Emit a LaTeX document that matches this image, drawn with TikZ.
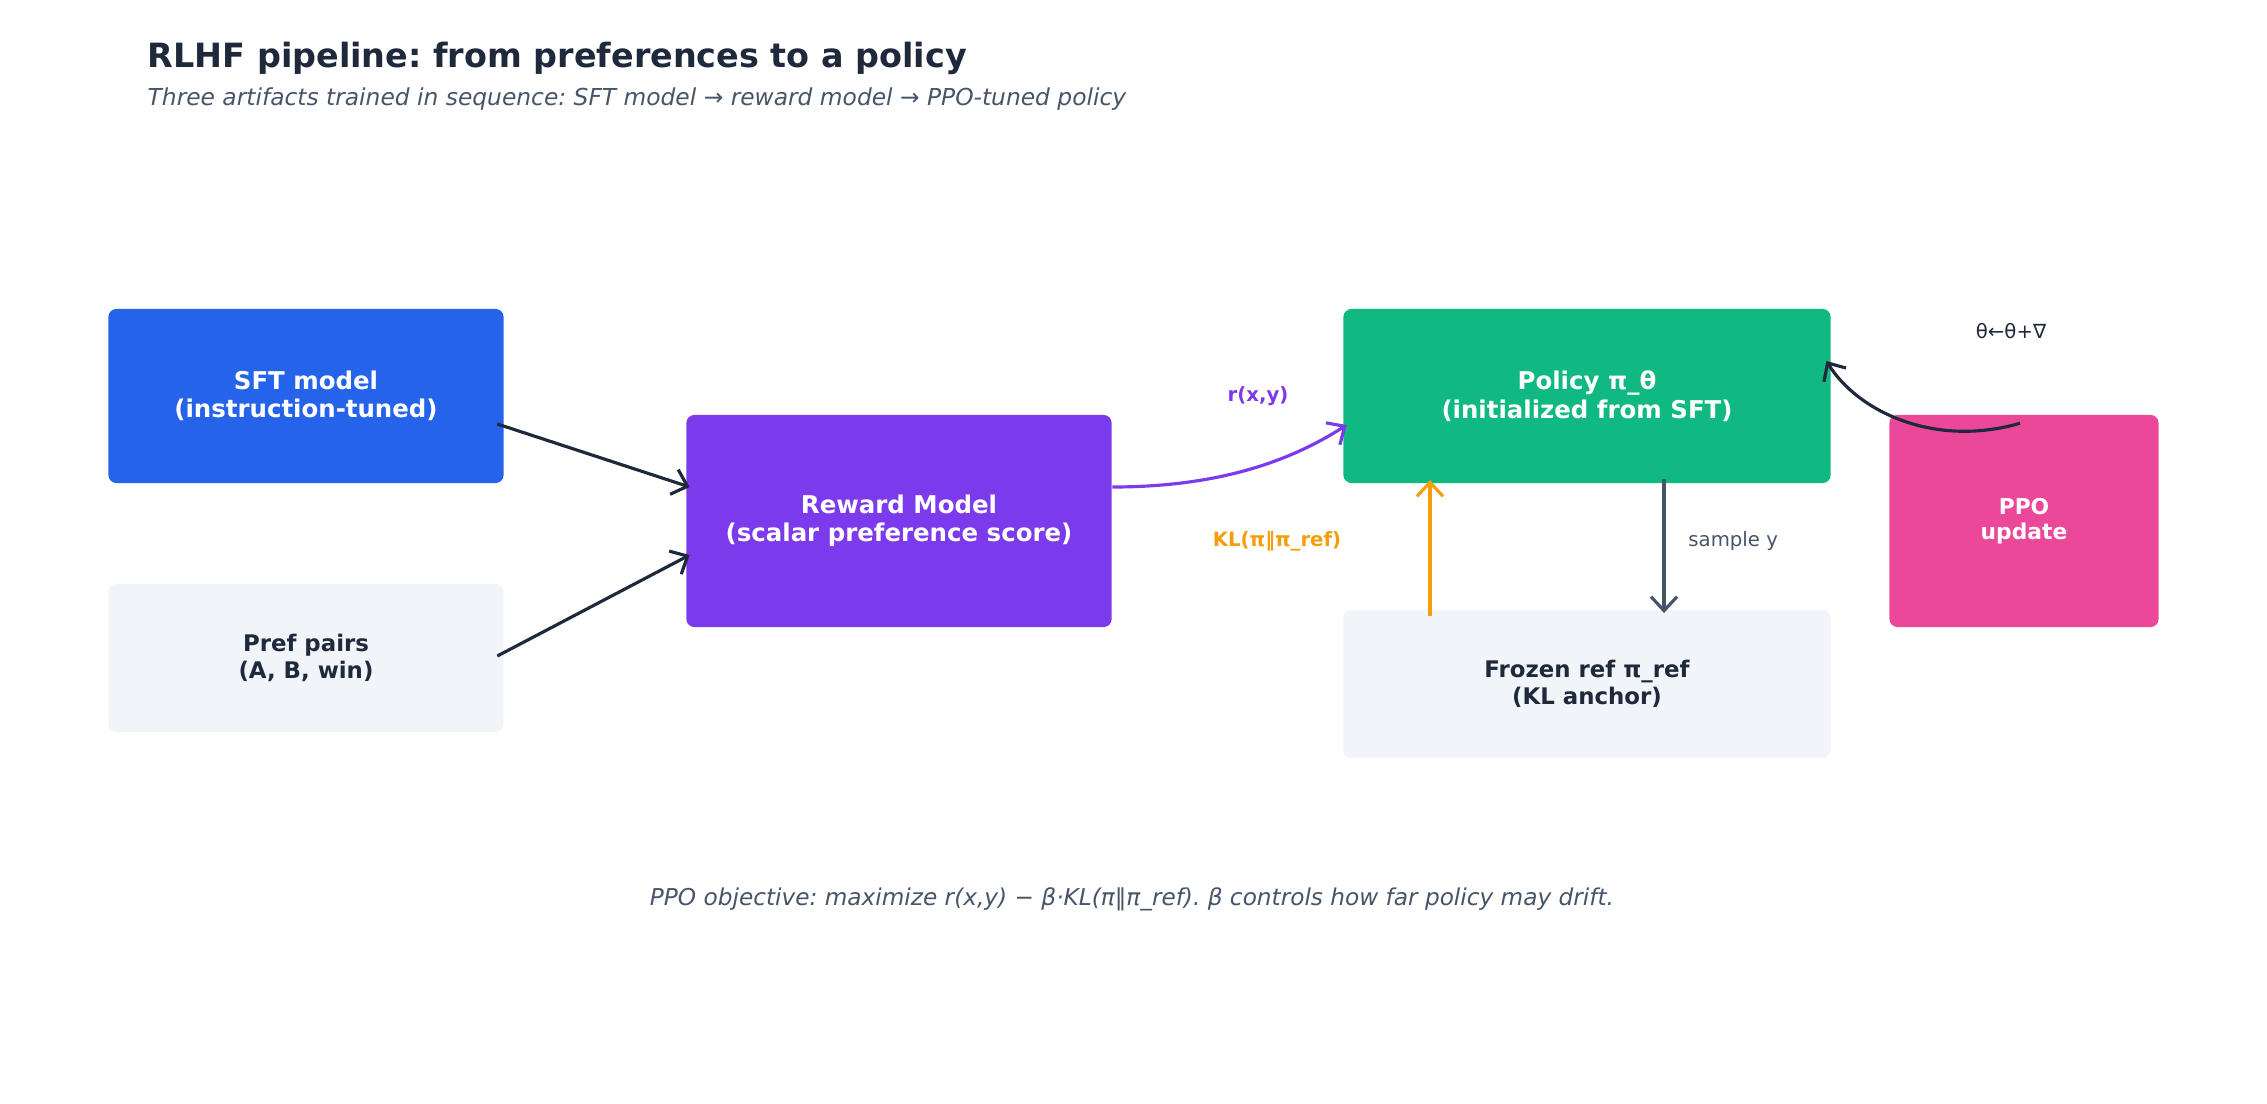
\documentclass[tikz,border=0pt]{standalone}
\usepackage{fontspec}
\setmainfont{DejaVu Sans}
\usepackage{xcolor}
\usetikzlibrary{arrows.meta,positioning,calc}
\frenchspacing

\definecolor{inkdark}{HTML}{1E293B}
\definecolor{inkgray}{HTML}{475569}
\definecolor{sftblue}{HTML}{2563EB}
\definecolor{rmpurple}{HTML}{7C3AED}
\definecolor{polgreen}{HTML}{10B981}
\definecolor{ppopink}{HTML}{EC4899}
\definecolor{softbg}{HTML}{F1F5F9}
\definecolor{klorange}{HTML}{F59E0B}

\begin{document}
\begin{tikzpicture}[
  x=0.01cm, y=-0.01cm,
  stage/.style={
    rounded corners=0.08cm, align=center, inner sep=4pt,
    font=\fontsize{6.95}{8.1}\selectfont\bfseries, text=white
  },
  datum/.style={
    rounded corners=0.08cm, align=center, inner sep=4pt,
    font=\fontsize{6.5}{7.6}\selectfont\bfseries, text=inkdark, fill=softbg
  },
  flow/.style={-{Straight Barb[length=1.4mm,width=2.6mm]}, line width=0.9pt},
  tag/.style={font=\fontsize{5.6}{6.6}\selectfont}
]
\useasboundingbox (0,0) rectangle (2267,1103);

% title block
\node[anchor=west, inner sep=0pt, text=inkdark, font=\fontsize{9.5}{11}\selectfont\bfseries] (title) at (147,58) {RLHF pipeline: from preferences to a policy};
\node[anchor=west, inner sep=0pt, text=inkgray, font=\fontsize{6.64}{7.6}\selectfont\itshape] (subtitle) at (147,99) {Three artifacts trained in sequence: SFT model → reward model → PPO-tuned policy};

% boxes
\node[stage, fill=sftblue, minimum width=3.95cm, minimum height=1.74cm] (sft) at (306,396) {SFT model\\(instruction-tuned)};
\node[datum, minimum width=3.95cm, minimum height=1.48cm] (pairs) at (306,658) {Pref pairs\\(A, B, win)};
\node[stage, fill=rmpurple, minimum width=4.25cm, minimum height=2.12cm] (rm) at (899,521) {Reward Model\\(scalar preference score)};
\node[stage, fill=polgreen, minimum width=4.87cm, minimum height=1.74cm] (policy) at (1587,396) {Policy π\_θ\\(initialized from SFT)};
\node[datum, minimum width=4.87cm, minimum height=1.48cm] (frozen) at (1587,684) {Frozen ref π\_ref\\(KL anchor)};
\node[stage, fill=ppopink, minimum width=2.69cm, minimum height=2.12cm, font=\fontsize{6.2}{7}\selectfont\bfseries] (ppo) at (2024,521) {PPO\\update};

% connectors
\draw[flow, inkdark] ($(sft.east)+(-7,28)$) -- ($(rm.west)+(4,-34)$);
\draw[flow, inkdark] ($(pairs.east)+(-7,-2)$) -- ($(rm.west)+(4,34)$);
\draw[flow, rmpurple] ($(rm.east)+(0,-34)$) .. controls (1225,487) and (1295,458) .. ($(policy.west)+(4,29)$);
\node[tag, text=rmpurple, font=\fontsize{5.6}{6.6}\selectfont\bfseries] (rlabel) at (1258,396) {r(x,y)};
\draw[flow, klorange] (1430,616) -- (1430,480);
\node[tag, text=klorange, font=\fontsize{5.6}{6.6}\selectfont\bfseries] (kllabel) at (1277,541) {KL(π‖π\_ref)};
\draw[flow, inkgray] (1664,479) -- (1664,613);
\node[tag, text=inkgray, anchor=west] (samplelabel) at (1676,541) {sample y};
\draw[flow, inkdark] ($(ppo.north)+(-4,9)$) .. controls (1935,448) and (1858,412) .. ($(policy.east)+(-5,-35)$);
\node[tag, text=inkdark] (updlabel) at (2011,331) {θ←θ+∇};

% footnote
\node[text=inkgray, font=\fontsize{6.6}{7.6}\selectfont\itshape] (objective) at (1132,899) {PPO objective: maximize r(x,y) − β·KL(π‖π\_ref). β controls how far policy may drift.};
\end{tikzpicture}
\end{document}
